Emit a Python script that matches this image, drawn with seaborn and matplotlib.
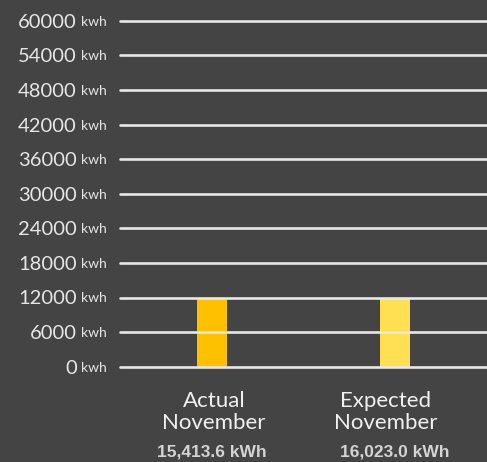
import matplotlib
matplotlib.use("Agg")
import matplotlib.pyplot as plt
import matplotlib.transforms as mtransforms
import seaborn as sns
import pandas as pd

# ---- data ----
categories = ["Actual\nNovember", "Expected\nNovember"]
bar_values = [12000, 12000]
value_labels = ["15,413.6 kWh", "16,023.0 kWh"]
tick_values = [0, 6000, 12000, 18000, 24000, 30000, 36000, 42000, 48000, 54000, 60000]
tick_unit = "kwh"
bar_colors = ["#FFC000", "#FFE052"]

BG = "#444444"
W, H = 487, 462

sns.set_theme(style="white")
plt.rcParams["font.family"] = ["Lato", "DejaVu Sans"]

fig = plt.figure(figsize=(W / 100, H / 100), dpi=100, facecolor=BG)
# axes: x 120..487 px ; y covering 0..60000 at 366.7..20.7 px with small margin
ymin, ymax = -600, 60600
ppu = (366.7 - 20.7) / 60000.0
top_px = 20.7 - (ymax - 60000) * ppu
bot_px = 366.7 + (0 - ymin) * ppu
ax = fig.add_axes([120 / W, 1 - bot_px / H, 367 / W, (bot_px - top_px) / H])
ax.set_facecolor(BG)

df = pd.DataFrame({"cat": categories, "val": bar_values})
sns.barplot(data=df, x="cat", y="val", hue="cat", palette=bar_colors,
            width=0.165, legend=False, ax=ax, saturation=1, zorder=1,
            linewidth=0, edgecolor="none")

ax.set_xlim(-0.5, 1.5)
ax.set_ylim(ymin, ymax)
ax.set_yticks(tick_values)
ax.set_xticks([])
ax.set_yticklabels([])
ax.tick_params(left=False, bottom=False)
ax.set_xlabel("")
ax.set_ylabel("")
for s in ax.spines.values():
    s.set_visible(False)
ax.grid(False)
for v in tick_values:
    ax.axhline(v, color="#E8E8E8", lw=1.9, zorder=3, clip_on=False)

# y tick labels: number + small unit
tr = mtransforms.blended_transform_factory(fig.transFigure, ax.transData)
for v in tick_values:
    ax.text(77 / W, v, f"{v}", transform=tr, ha="right", va="center_baseline",
            fontsize=14.5, color="#E6E6E6")
    ax.text(81 / W, v, tick_unit, transform=tr, ha="left", va="center_baseline",
            fontsize=10, color="#E6E6E6")

# category labels and values below bars
trx = mtransforms.blended_transform_factory(ax.transData, fig.transFigure)
cat_dx = [2.5, -10]
val_dx = [0, -1]
for i, (c, vl) in enumerate(zip(categories, value_labels)):
    t1 = mtransforms.offset_copy(trx, fig=fig, x=cat_dx[i] * 72 / 100, y=0, units="points")
    ax.text(i, 1 - 429 / H, c, transform=t1, ha="center", va="baseline",
            fontsize=16, color="#F0F0F0", linespacing=1.1, multialignment="center")
    t2 = mtransforms.offset_copy(trx, fig=fig, x=val_dx[i] * 72 / 100, y=0, units="points")
    ax.text(i, 1 - 456.5 / H, vl, transform=t2, ha="center", va="baseline",
            fontsize=12.5, fontweight="bold", color="#D4D4D4",
            family=["Liberation Sans", "DejaVu Sans"])

fig.savefig("out.png", dpi=100, facecolor=BG)
